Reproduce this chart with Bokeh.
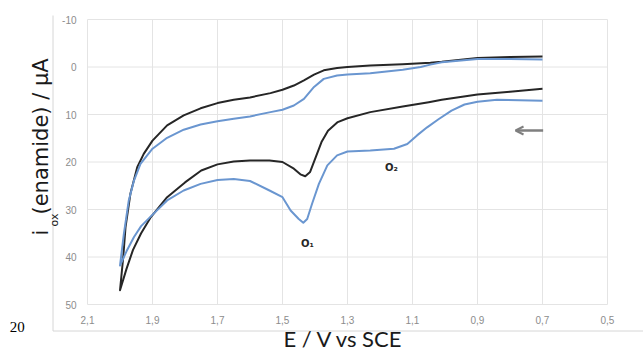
import math
from bokeh.plotting import figure
from bokeh.models import (Range1d, FixedTicker, CustomJSTickFormatter, Label,
                          Arrow, OpenHead, LinearAxis)
from bokeh.embed import file_html
from bokeh.resources import INLINE

# ---------------- data ----------------
x_ticks = [2.1, 1.9, 1.7, 1.5, 1.3, 1.1, 0.9, 0.7, 0.5]
y_ticks = [-10, 0, 10, 20, 30, 40, 50]

# black curve, forward (lower) branch
black_fwd_E = [0.70, 0.80, 0.90, 1.01, 1.05, 1.13, 1.23, 1.30, 1.33, 1.36, 1.38, 1.40,
               1.415, 1.43, 1.445, 1.465, 1.50, 1.54, 1.60, 1.65, 1.70, 1.75, 1.80,
               1.855, 1.905, 1.935, 1.96, 1.98, 2.00]
black_fwd_i = [4.6, 5.2, 5.8, 6.9, 7.4, 8.3, 9.5, 10.8, 11.6, 13.4, 15.8, 19.4,
               22.1, 23.0, 22.6, 21.4, 20.0, 19.7, 19.7, 19.9, 20.5, 21.8, 24.3,
               27.4, 31.6, 35.0, 38.5, 42.5, 47.0]
# black curve, reverse (upper) branch
black_rev_E = [2.00, 1.99, 1.983, 1.968, 1.947, 1.927, 1.90, 1.855, 1.804, 1.752, 1.70,
               1.65, 1.60, 1.537, 1.50, 1.465, 1.434, 1.403, 1.373, 1.332, 1.30, 1.23,
               1.13, 1.045, 1.01, 0.90, 0.80, 0.70]
black_rev_i = [47.0, 40.0, 33.7, 26.7, 21.1, 18.3, 15.5, 12.3, 10.2, 8.7, 7.6,
               6.9, 6.4, 5.5, 4.8, 3.9, 2.8, 1.6, 0.7, 0.2, 0.0, -0.3,
               -0.6, -0.9, -1.1, -1.9, -2.1, -2.2]

# blue curve, forward (lower) branch
blue_fwd_E = [0.70, 0.84, 0.90, 0.94, 0.98, 1.02, 1.055, 1.086, 1.116, 1.157, 1.23,
              1.30, 1.332, 1.362, 1.388, 1.409, 1.424, 1.436, 1.45, 1.475, 1.50, 1.54,
              1.60, 1.65, 1.70, 1.752, 1.804, 1.855, 1.906, 1.935, 1.957, 1.98, 2.00]
blue_fwd_i = [7.1, 6.9, 7.3, 7.9, 9.2, 11.0, 12.7, 14.4, 16.2, 17.2, 17.6,
              17.8, 18.6, 20.7, 24.6, 28.8, 32.0, 32.8, 32.0, 30.2, 27.4, 26.0,
              24.0, 23.6, 23.8, 24.6, 26.0, 28.1, 31.5, 33.5, 35.8, 38.8, 41.8]
# blue curve, reverse (upper) branch
blue_rev_E = [2.00, 1.988, 1.973, 1.957, 1.937, 1.90, 1.855, 1.804, 1.752, 1.70, 1.65,
              1.60, 1.537, 1.50, 1.465, 1.434, 1.403, 1.373, 1.332, 1.30, 1.23, 1.13,
              1.075, 1.045, 1.01, 0.90, 0.80, 0.70]
blue_rev_i = [41.8, 35.1, 28.1, 23.9, 20.4, 17.2, 14.9, 13.2, 12.1, 11.4, 10.9,
              10.4, 9.5, 9.0, 8.1, 6.7, 4.2, 2.5, 1.8, 1.6, 1.3, 0.6,
              0.0, -0.5, -1.0, -1.7, -1.7, -1.6]

BLACK = "#262626"
BLUE = "#6a96d0"
GRID = "#e4e4e4"
TICK = "#8c8c8c"
FRAME = "#d6d6d6"

# The plotting frame covers the whole canvas; the value region
# (2.1..0.5 V, -10..50 uA) sits inside it, so texts outside it are still drawn.
W, H = 643, 352
p = figure(width=W, height=H,
           x_range=Range1d(2.3677, 0.3892), y_range=Range1d(60.105, -14.0),
           x_axis_type=None, y_axis_type=None,
           output_backend="svg", toolbar_location=None, min_border=0)
p.outline_line_color = None
p.background_fill_color = "white"
p.border_fill_color = "white"

# axes, pinned to the edges of the value region
xaxis = LinearAxis(fixed_location=y_ticks[-1], bounds=(x_ticks[-1], x_ticks[0]),
                   ticker=FixedTicker(ticks=x_ticks),
                   formatter=CustomJSTickFormatter(code="return tick.toFixed(1).replace('.', ',');"))
yaxis = LinearAxis(fixed_location=x_ticks[0], bounds=(y_ticks[0], y_ticks[-1]),
                   ticker=FixedTicker(ticks=y_ticks),
                   formatter=CustomJSTickFormatter(code="return tick.toFixed(0);"))
for ax in (xaxis, yaxis):
    ax.axis_line_color = None
    ax.major_tick_line_color = None
    ax.minor_tick_line_color = None
    ax.major_tick_out = 0
    ax.major_tick_in = 0
    ax.minor_tick_out = 0
    ax.minor_tick_in = 0
    ax.major_label_text_font = "Liberation Sans"
    ax.major_label_text_font_size = "10px"
    ax.major_label_text_color = TICK
yaxis.major_label_standoff = 11
xaxis.major_label_standoff = 11
p.add_layout(xaxis, "below")
p.add_layout(yaxis, "left")

# grid lines over the value region
n_x, n_y = len(x_ticks), len(y_ticks)
p.segment(x0=x_ticks, x1=x_ticks, y0=[y_ticks[0]] * n_x, y1=[y_ticks[-1]] * n_x,
          line_color=GRID, line_width=1)
p.segment(x0=[x_ticks[0]] * n_y, x1=[x_ticks[-1]] * n_y, y0=y_ticks, y1=y_ticks,
          line_color=GRID, line_width=1)

# chart-area border (left and bottom edges of the picture box)
p.segment(x0=[2.20615, 2.20615], y0=[-10.842, 55.579], x1=[2.20615, 0.3892], y1=[55.579, 55.579],
          line_color=FRAME, line_width=1)

# curves
p.line(black_fwd_E + black_rev_E[1:], black_fwd_i + black_rev_i[1:],
       line_color=BLACK, line_width=2, line_join="round")
p.line(blue_fwd_E + blue_rev_E[1:], blue_fwd_i + blue_rev_i[1:],
       line_color=BLUE, line_width=2, line_join="round")

# sweep arrow
p.add_layout(Arrow(end=OpenHead(size=8, line_color="#7f7f7f", line_width=2),
                   x_start=0.698, y_start=13.37, x_end=0.783, y_end=13.37,
                   line_color="#7f7f7f", line_width=2.5))

# peak labels
for txt, xx, yy in (("O\u2081", 1.423, 37.16), ("O\u2082", 1.1646, 21.16)):
    p.add_layout(Label(x=xx, y=yy, text=txt, text_font="DejaVu Sans", text_font_style="bold",
                       text_font_size="10px", text_color=BLACK, text_align="center",
                       text_baseline="middle"))

# axis titles
p.add_layout(Label(x=1.3123, y=57.26, text="E / V vs SCE", text_font="Lato",
                   text_font_size="22px", text_color="#1a1a1a", text_align="center",
                   text_baseline="middle"))
p.add_layout(Label(x=2.2425, y=35.47, text="i", text_font="DejaVu Sans", text_font_size="21px",
                   text_color="#1a1a1a", angle=math.pi / 2, text_align="left",
                   text_baseline="middle"))
p.add_layout(Label(x=2.2025, y=33.58, text="ox", text_font="DejaVu Sans", text_font_size="11px",
                   text_color="#1a1a1a", angle=math.pi / 2, text_align="left",
                   text_baseline="middle"))
p.add_layout(Label(x=2.2425, y=31.05, text="(enamide) / \u00b5A", text_font="DejaVu Sans",
                   text_font_size="21px", text_color="#1a1a1a", angle=math.pi / 2,
                   text_align="left", text_baseline="middle"))

# stray page number in the lower-left corner
p.add_layout(Label(x=2.339, y=54.84, text="20", text_font="Liberation Serif",
                   text_font_size="15px", text_color="black", text_align="left",
                   text_baseline="middle"))

open("out.html", "w").write(file_html(p, INLINE))
